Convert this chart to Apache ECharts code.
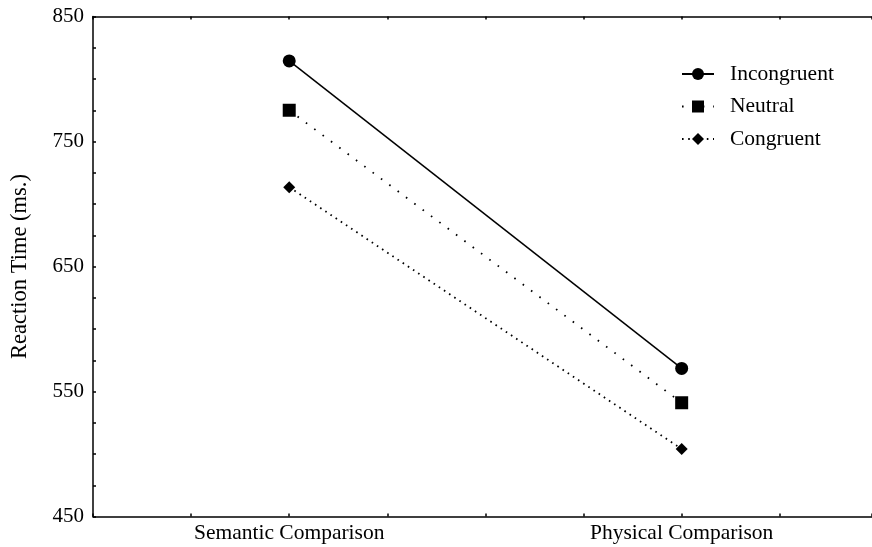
<!DOCTYPE html>
<html>
<head>
<meta charset="utf-8">
<script src="https://cdn.jsdelivr.net/npm/echarts@6/dist/echarts.min.js"></script>
<style>html,body{margin:0;padding:0;background:#fff;}#c{width:872px;height:547px;}</style>
</head>
<body>
<div id="c"></div>
<script>
const categories = ['Semantic Comparison', 'Physical Comparison'];
const categoryPositions = [2, 6];
const incongruent = [814.5, 568.5];
const neutral = [775, 541];
const congruent = [713.5, 504];
const yTickLabels = [450, 550, 650, 750, 850];

const font = 'Liberation Serif';
const chart = echarts.init(document.getElementById('c'));
const toPts = vals => vals.map((v, i) => [categoryPositions[i], v]);
const axisCommon = {
  type: 'value', min: 0, max: 7.94, interval: 1,
  axisLine: { show: true, lineStyle: { color: '#000', width: 1.5 } },
  axisTick: { show: true, inside: true, length: 3, lineStyle: { color: '#000', width: 1.5 } },
  splitLine: { show: false }
};
chart.setOption({
  animation: false,
  backgroundColor: '#fff',
  grid: { left: 93, top: 16.5, right: 0, bottom: 30.5, outerBoundsMode: 'none', containLabel: false },
  legend: {
    orient: 'vertical', left: 676, top: 58,
    itemWidth: 32, itemHeight: 15, itemGap: 10.5,
    textStyle: { fontFamily: font, fontSize: 21.5, color: '#000', lineHeight: 18, padding: [0, 0, 0, 11] },
    data: ['Incongruent', 'Neutral', 'Congruent']
  },
  xAxis: [
    Object.assign({}, axisCommon, {
      position: 'bottom',
      axisLabel: {
        show: true, margin: 6, fontFamily: font, fontSize: 21.5, color: '#000',
        formatter: v => { const i = categoryPositions.indexOf(v); return i >= 0 ? categories[i] : ''; }
      }
    }),
    Object.assign({}, axisCommon, { position: 'top', axisLabel: { show: false } })
  ],
  yAxis: {
    type: 'value', min: 450, max: 850, interval: 25,
    name: 'Reaction Time (ms.)', nameLocation: 'middle', nameGap: 61,
    nameTextStyle: { fontFamily: font, fontSize: 22.5, color: '#000' },
    axisLine: { show: true, lineStyle: { color: '#000', width: 1.5 } },
    axisTick: { show: true, inside: true, length: 3, lineStyle: { color: '#000', width: 1.5 } },
    splitLine: { show: false },
    axisLabel: {
      margin: 9, fontFamily: font, fontSize: 21, color: '#000',
      formatter: v => yTickLabels.indexOf(v) >= 0 ? String(v) : ''
    }
  },
  series: [
    { name: 'Incongruent', type: 'line', data: toPts(incongruent), symbol: 'circle', symbolSize: 13,
      itemStyle: { color: '#000' }, lineStyle: { color: '#000', width: 1.5, type: 'solid' } },
    { name: 'Neutral', type: 'line', data: toPts(neutral), symbol: 'rect', symbolSize: 13,
      itemStyle: { color: '#000' }, lineStyle: { color: '#000', width: 1.8, type: [1.6, 8.8] } },
    { name: 'Congruent', type: 'line', data: toPts(congruent), symbol: 'diamond', symbolSize: 12,
      itemStyle: { color: '#000' }, lineStyle: { color: '#000', width: 1.8, type: [1.6, 4.6] } }
  ]
});
</script>
</body>
</html>
